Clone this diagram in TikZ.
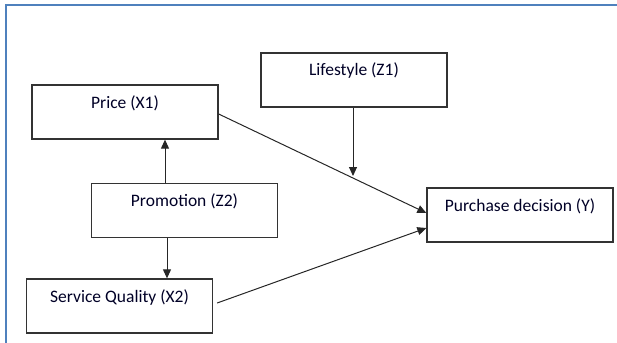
\documentclass[tikz,border=0pt]{standalone}
\usepackage{fontspec}
\setmainfont{Carlito}
\usetikzlibrary{arrows.meta}
\definecolor{frameblue}{RGB}{79,129,189}

\begin{document}
\begin{tikzpicture}[x=1pt, y=-1pt,
		var/.style = {draw = black!80, line width = 1.3pt, rectangle, inner sep = 0pt,
			minimum width = 186pt, text height = 23pt, text depth = 31pt,
			font = \fontsize{17.5}{19}\selectfont, text = black!85!blue},
		arr/.style = {draw = black!85, line width = 1pt, -{Triangle[length = 9pt, width = 8pt]}}]
				\useasboundingbox (0, 0) rectangle (617, 342);
				\clip (0, 0) rectangle (617, 342);
				\draw[frameblue, line width = 2pt] (6, 350) -- (6, 5) -- (630, 5);
				
				\node[var] (price) at (125, 112) {Price (X1)};
				\node[var] (lifestyle) at (354, 80) {Lifestyle (Z1)};
				\node[var] (promotion) at (184.5, 210.5) {Promotion (Z2)};
				\node[var] (service) at (119.5, 306) {Service Quality (X2)};
				\node[var] (purchase) at (520, 215) {Purchase decision (Y)};
				\coordinate (meet) at (353, 176);
				
				\draw[arr] ([xshift = -19.5pt]promotion.north) -- ([xshift = -19.5pt]promotion.north |- price.south);
				\draw[arr] ([xshift = -17.5pt]promotion.south) -- ([xshift = -17.5pt]promotion.south |- service.north);
				\draw[arr] (lifestyle.south -| meet) -- (meet);
				\draw[arr] ([yshift = -2pt]price.east) -- ([yshift = 2pt]purchase.west);
				\draw[arr] ([xshift = 4pt, yshift = 3pt]service.east) -- ([yshift = -13pt]purchase.west);
\end{tikzpicture}
\end{document}
